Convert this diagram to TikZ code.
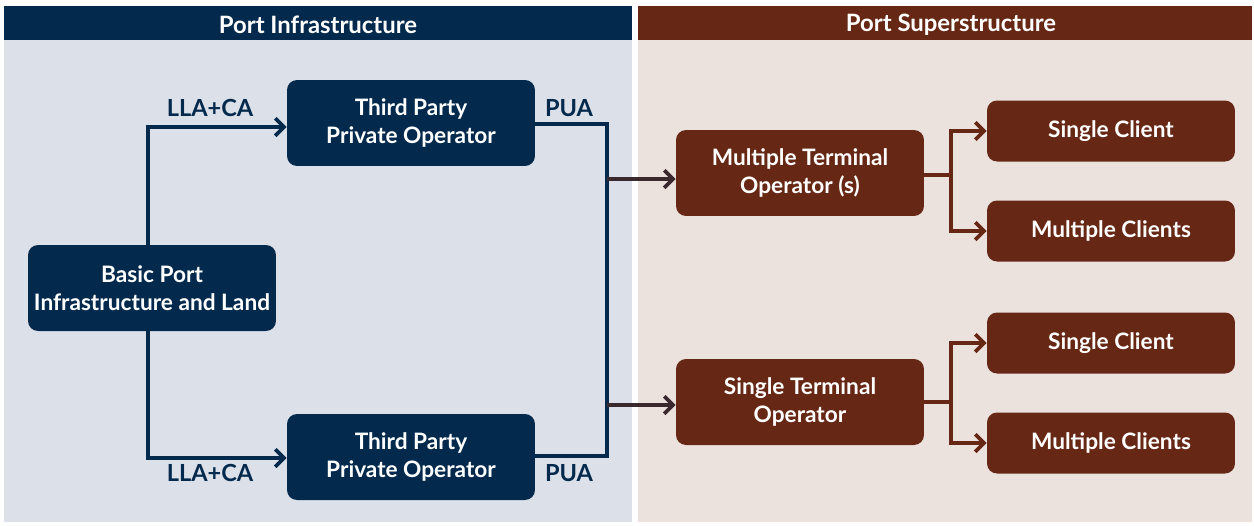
\documentclass[tikz,border=0pt]{standalone}
\usepackage{fontspec}
\setmainfont{Lato}
\usetikzlibrary{arrows.meta}
\definecolor{navy}{HTML}{032A4D}
\definecolor{navybg}{HTML}{DCE0E9}
\definecolor{rust}{HTML}{662714}
\definecolor{rustbg}{HTML}{EBE2DE}
\tikzset{
  infra/.style={draw=none,fill=navy,rounded corners=0.2cm,text=white,font=\bfseries\fontsize{12.9}{16}\selectfont,align=center,minimum width=4.96cm,minimum height=1.72cm,inner sep=0pt},
  superop/.style={infra,fill=rust},
  client/.style={superop,minimum height=1.22cm},
  lbl/.style={text=navy,font=\bfseries\fontsize{13.4}{15}\selectfont,inner sep=0pt},
  head/.style={text=white,font=\bfseries\fontsize{13.6}{15}\selectfont,inner sep=0pt},
  navyline/.style={navy,line width=2.1pt},
  rustline/.style={rust,line width=2.1pt},
  tip/.style={-{Straight Barb[length=5pt,width=10pt]}},
}
\begin{document}
\begin{tikzpicture}[x=0.02cm,y=-0.02cm]
\useasboundingbox (0,0) rectangle (1254,525);
% panels
\fill[navybg] (4,6) rectangle (632,522);
\fill[navy] (4,6) rectangle (632,40);
\fill[rustbg] (638,6) rectangle (1252,522);
\fill[rust] (638,6) rectangle (1252,40);
\node[head] (hinfra) at (318,25) {Port Infrastructure};
\node[head] (hsuper) at (951,25) {Port Superstructure};

% infrastructure side
\node[infra] (basic) at (152,288) {Basic Port\\Infrastructure and Land};
\node[infra] (tpA) at (411,123) {Third Party\\Private Operator};
\node[infra] (tpB) at (411,457) {Third Party\\Private Operator};

% superstructure side
\node[superop] (multi) at (800,173) {Multiple Terminal\\Operator (s)};
\node[superop] (single) at (800,402) {Single Terminal\\Operator};
\node[client] (cA) at (1111,131) {Single Client};
\node[client] (cB) at (1111,231) {Multiple Clients};
\node[client] (cC) at (1111,343) {Single Client};
\node[client] (cD) at (1111,443) {Multiple Clients};

% concession links
\draw[navyline,tip] (basic.north -| 148,0) |- (tpA.west |- 0,127);
\draw[navyline,tip] (basic.south -| 148,0) |- (tpB.west |- 0,458);
\node[lbl] (llaA) at (210,108) {LLA+CA};
\node[lbl] (llaB) at (210,473) {LLA+CA};
\coordinate (join) at (607,124);
\draw[navyline] (tpA.east |- join) -- (join) -- (join |- 0,456) -- (tpB.east |- 0,456);
\node[lbl] (puaA) at (569,108) {PUA};
\node[lbl] (puaB) at (569,473) {PUA};
\draw[line width=2.1pt,navy!45!rust,tip] (join |- 0,179) -- (multi.west |- 0,179);
\draw[line width=2.1pt,navy!45!rust,tip] (join |- 0,405) -- (single.west |- 0,405);

% client links
\coordinate (forkA) at (951,175);
\coordinate (forkB) at (951,402);
\draw[rustline] (multi.east |- forkA) -- (forkA);
\draw[rustline,tip] (forkA) |- (cA.west);
\draw[rustline,tip] (forkA) |- (cB.west);
\draw[rustline] (single.east |- forkB) -- (forkB);
\draw[rustline,tip] (forkB) |- (cC.west);
\draw[rustline,tip] (forkB) |- (cD.west);
\end{tikzpicture}
\end{document}
